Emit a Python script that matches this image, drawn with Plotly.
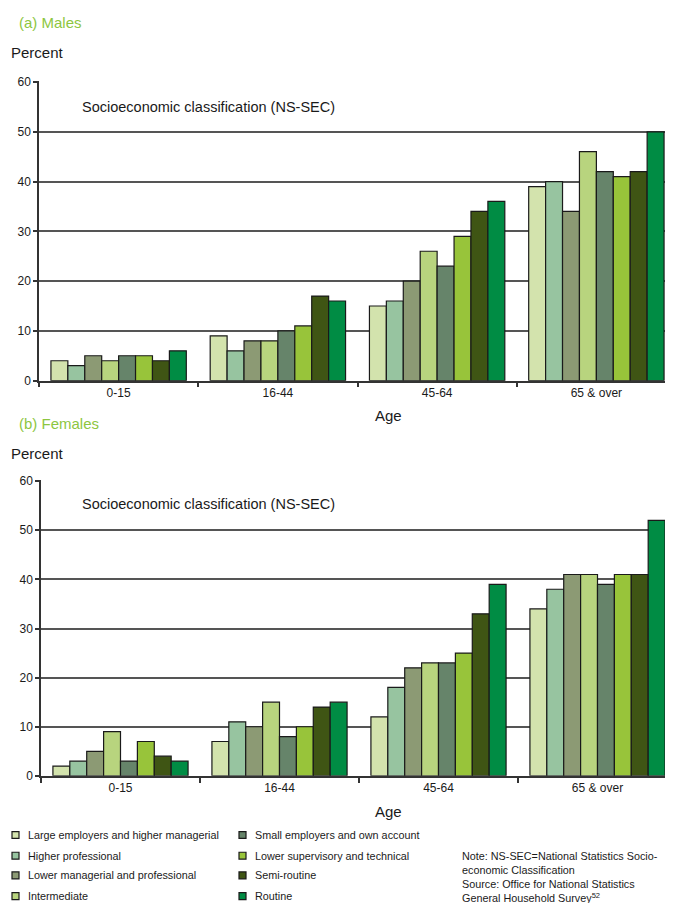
import plotly.graph_objects as go

W, H = 673, 903

age_groups = ["0-15", "16-44", "45-64", "65 & over"]
classes = [
    "Large employers and higher managerial",
    "Higher professional",
    "Lower managerial and professional",
    "Intermediate",
    "Small employers and own account",
    "Lower supervisory and technical",
    "Semi-routine",
    "Routine",
]
colors = ["#d3e3ad", "#97c4a0", "#8c9a74", "#b8d47e",
          "#66846a", "#98c43a", "#3f5514", "#008c44"]

# values per class, across age groups [0-15, 16-44, 45-64, 65 & over]
males = [
    [4, 9, 15, 39],
    [3, 6, 16, 40],
    [5, 8, 20, 34],
    [4, 8, 26, 46],
    [5, 10, 23, 42],
    [5, 11, 29, 41],
    [4, 17, 34, 42],
    [6, 16, 36, 50],
]
females = [
    [2, 7, 12, 34],
    [3, 11, 18, 38],
    [5, 10, 22, 41],
    [9, 15, 23, 41],
    [3, 8, 23, 39],
    [7, 10, 25, 41],
    [4, 14, 33, 41],
    [3, 15, 39, 52],
]
y_ticks = [0, 10, 20, 30, 40, 50, 60]


def px_x(p):
    return p / W


def px_y(p):
    return 1 - p / H


fig = go.Figure()
for i, name in enumerate(classes):
    fig.add_trace(go.Bar(
        x=age_groups, y=males[i], name=name, legendgroup=name,
        marker=dict(color=colors[i], line=dict(color="#1a1a1a", width=1.2)),
        xaxis="x", yaxis="y", showlegend=False,
    ))
for i, name in enumerate(classes):
    fig.add_trace(go.Bar(
        x=age_groups, y=females[i], name=name, legendgroup=name,
        marker=dict(color=colors[i], line=dict(color="#1a1a1a", width=1.2)),
        xaxis="x2", yaxis="y2", showlegend=False,
    ))

font_family = "Liberation Sans, Arial, sans-serif"
axis_common_x = dict(
    type="category", tickson="boundaries", ticks="outside", ticklen=5,
    tickcolor="#333", tickwidth=1.5, showline=True, linecolor="#333",
    linewidth=1.5, showgrid=False, tickfont=dict(size=12, color="#1a1a1a"),
    fixedrange=True,
)
axis_common_y = dict(
    range=[0, 60.2], tickvals=y_ticks, ticks="outside", ticklen=4,
    tickcolor="#333", tickwidth=1.5, showline=True, linecolor="#333",
    linewidth=1.5, showgrid=True, gridcolor="#555555", gridwidth=1.5,
    zeroline=False, tickfont=dict(size=12, color="#1a1a1a"), fixedrange=True,
)

fig.update_layout(
    width=W, height=H,
    margin=dict(l=0, r=0, t=0, b=0),
    paper_bgcolor="white", plot_bgcolor="white",
    font=dict(family=font_family, color="#1a1a1a"),
    barmode="group", bargap=0.15, bargroupgap=0,
    showlegend=False,
    xaxis=dict(domain=[px_x(31), px_x(668)], anchor="y", **axis_common_x),
    yaxis=dict(domain=[px_y(372), px_y(68)], anchor="x", **axis_common_y),
    xaxis2=dict(domain=[px_x(33), px_x(669)], anchor="y2", **axis_common_x),
    yaxis2=dict(domain=[px_y(773), px_y(473)], anchor="x2", **axis_common_y),
)

green = "#8dc63f"
ann = [
    dict(text="(a) Males", x=px_x(9), y=px_y(9), font=dict(size=15, color=green)),
    dict(text="Percent", x=px_x(1), y=px_y(39), font=dict(size=15)),
    dict(text="Socioeconomic classification (NS-SEC)", x=px_x(72), y=px_y(94),
         font=dict(size=14.5)),
    dict(text="(b) Females", x=px_x(9), y=px_y(415), font=dict(size=15, color=green)),
    dict(text="Percent", x=px_x(1), y=px_y(446), font=dict(size=15)),
    dict(text="Socioeconomic classification (NS-SEC)", x=px_x(72), y=px_y(497),
         font=dict(size=14.5)),
]
annotations = []
for a in ann:
    annotations.append(dict(xref="paper", yref="paper", xanchor="left",
                            yanchor="middle", showarrow=False, **a))
for yy in (407, 809):
    annotations.append(dict(text="Age", xref="paper", yref="paper", x=px_x(380),
                            y=px_y(yy), xanchor="center", yanchor="middle",
                            showarrow=False, font=dict(size=15)))
annotations.append(dict(
    text=("Note: NS-SEC=National Statistics Socio-<br>economic Classification<br>"
          "Source: Office for National Statistics<br>General Household Survey<sup>52</sup>"),
    xref="paper", yref="paper", x=px_x(452), y=px_y(846), xanchor="left",
    yanchor="top", align="left", showarrow=False, font=dict(size=10.8)))

# Legend (two columns of four), laid out as key squares + labels
legend_cols_x = [4, 231]      # left edge of key square, px
legend_rows_y = [833, 854, 874, 895]  # row centres, px
sq = 7
shapes = []
for i, (name, col) in enumerate(zip(classes, colors)):
    cx = legend_cols_x[i // 4]
    cy = legend_rows_y[i % 4]
    shapes.append(dict(type="rect", xref="paper", yref="paper",
                       x0=px_x(cx), x1=px_x(cx + sq),
                       y0=px_y(cy + sq / 2), y1=px_y(cy - sq / 2),
                       fillcolor=col, line=dict(color="#1a1a1a", width=1.2)))
    annotations.append(dict(text=name, xref="paper", yref="paper",
                            x=px_x(cx + 14), y=px_y(cy), xanchor="left",
                            yanchor="middle", showarrow=False,
                            font=dict(size=10.8, color="#1a1a1a")))

fig.update_layout(annotations=annotations, shapes=shapes)

fig.write_html("out.html")
